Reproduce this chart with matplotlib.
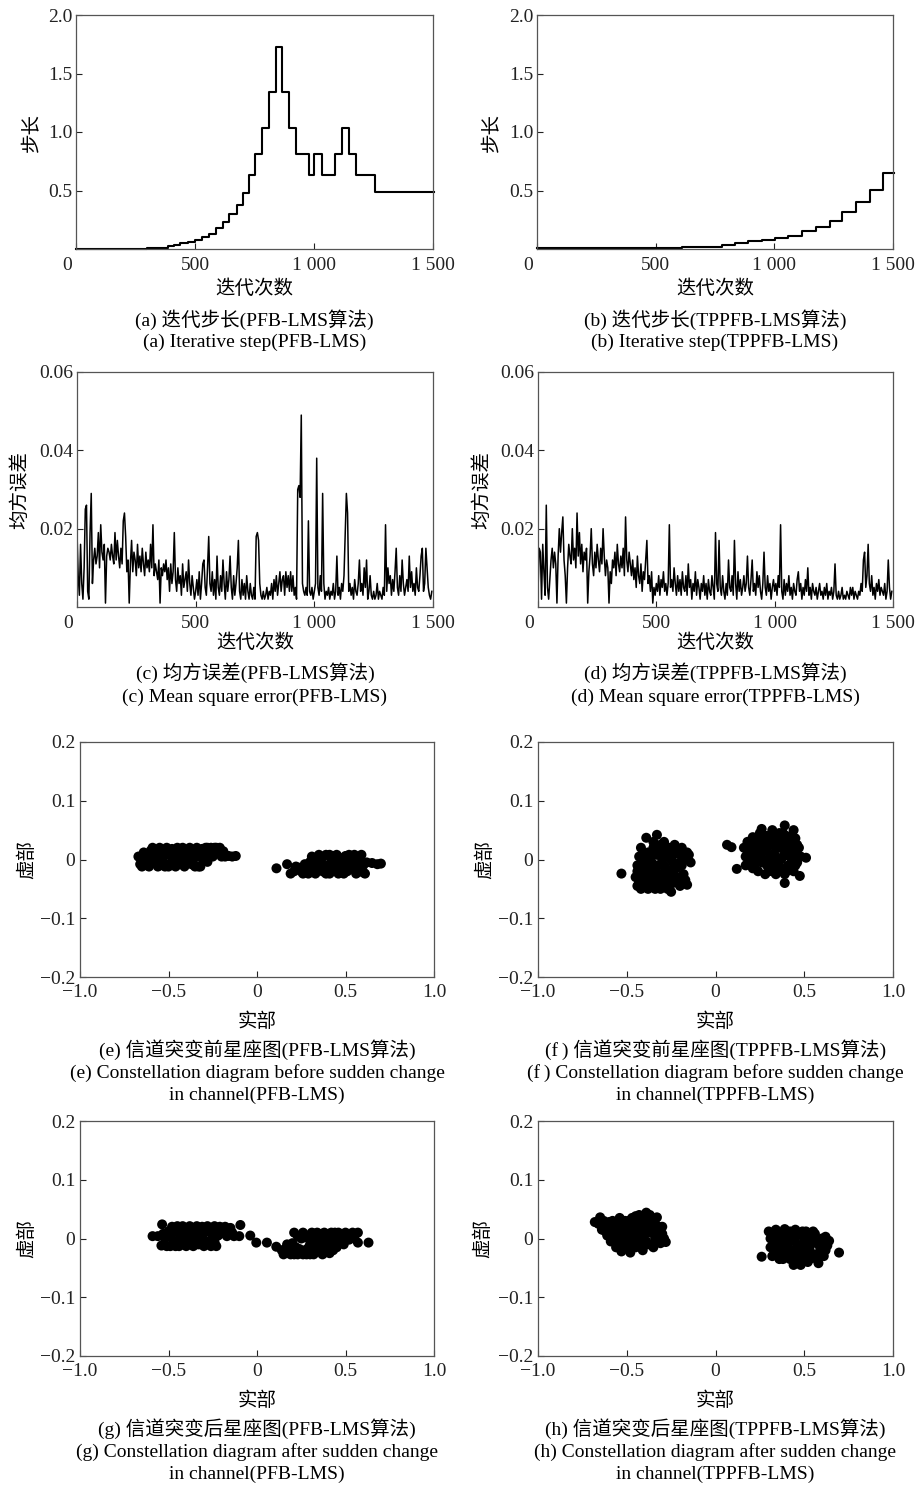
import matplotlib
matplotlib.use("Agg")
import matplotlib.pyplot as plt
import matplotlib.transforms as mtransforms
import numpy as np

plt.rcParams['font.family'] = ['Liberation Serif', 'Noto Sans CJK SC']
plt.rcParams['axes.unicode_minus'] = True

W, H = 919, 1487  # output size in pixels (dpi 100)

### step size, piecewise constant: start iteration -> value
a_iter = [0, 297, 388, 410, 437, 472, 500, 531, 559, 587, 616, 644, 675, 700, 726,
          752, 781, 810, 840, 867, 896, 924, 978, 1001, 1035, 1090, 1119, 1148, 1175, 1256, 1505]
a_step = [0.003, 0.011, 0.028, 0.037, 0.048, 0.063, 0.078, 0.10, 0.13, 0.178, 0.233, 0.30, 0.38, 0.48, 0.63,
          0.812, 1.037, 1.345, 1.73, 1.345, 1.037, 0.812, 0.63, 0.812, 0.63, 0.812, 1.037, 0.812, 0.63, 0.484, 0.484]

b_iter = [0, 610, 779, 835, 891, 947, 1003, 1059, 1118, 1176, 1235, 1287, 1344, 1403, 1457, 1505]
b_step = [0.006, 0.02, 0.034, 0.048, 0.065, 0.077, 0.091, 0.114, 0.151, 0.191, 0.243, 0.312, 0.40, 0.506, 0.649, 0.649]

### mean square error, one value every 5 iterations
mse_iter = np.arange(0, 1500, 5)
c_mse = [
    0.019, 0.008, 0.003, 0.016, 0.006, 0.002, 0.010, 0.025, 0.026, 0.004, 0.002, 0.019, 0.029, 0.006, 0.012, 0.015, 0.011, 0.013, 0.019, 0.010,
    0.021, 0.014, 0.012, 0.016, 0.001, 0.013, 0.015, 0.014, 0.012, 0.016, 0.013, 0.011, 0.019, 0.012, 0.017, 0.013, 0.010, 0.015, 0.011, 0.022,
    0.024, 0.018, 0.009, 0.012, 0.001, 0.011, 0.017, 0.009, 0.014, 0.012, 0.008, 0.016, 0.010, 0.013, 0.009, 0.015, 0.011, 0.008, 0.014, 0.010,
    0.012, 0.009, 0.016, 0.010, 0.021, 0.008, 0.011, 0.009, 0.007, 0.012, 0.001, 0.010, 0.008, 0.011, 0.009, 0.012, 0.007, 0.010, 0.004, 0.011,
    0.006, 0.009, 0.019, 0.007, 0.004, 0.010, 0.006, 0.008, 0.003, 0.011, 0.005, 0.007, 0.009, 0.004, 0.012, 0.006, 0.003, 0.008, 0.005, 0.002,
    0.004, 0.007, 0.003, 0.009, 0.002, 0.006, 0.011, 0.012, 0.005, 0.003, 0.010, 0.018, 0.006, 0.004, 0.009, 0.003, 0.007, 0.002, 0.013, 0.005,
    0.003, 0.008, 0.004, 0.012, 0.006, 0.002, 0.009, 0.004, 0.007, 0.013, 0.005, 0.002, 0.008, 0.003, 0.006, 0.010, 0.017, 0.004, 0.002, 0.007,
    0.003, 0.006, 0.002, 0.008, 0.004, 0.002, 0.006, 0.003, 0.002, 0.005, 0.002, 0.018, 0.019, 0.017, 0.006, 0.003, 0.002, 0.004, 0.002, 0.003,
    0.005, 0.002, 0.004, 0.003, 0.006, 0.002, 0.007, 0.004, 0.008, 0.003, 0.006, 0.009, 0.004, 0.007, 0.008, 0.003, 0.009, 0.005, 0.008, 0.004,
    0.009, 0.004, 0.008, 0.003, 0.005, 0.002, 0.030, 0.031, 0.028, 0.049, 0.006, 0.004, 0.003, 0.005, 0.003, 0.022, 0.004, 0.003, 0.005, 0.002,
    0.004, 0.006, 0.038, 0.005, 0.003, 0.008, 0.004, 0.029, 0.006, 0.002, 0.004, 0.003, 0.005, 0.002, 0.004, 0.003, 0.006, 0.002, 0.004, 0.013,
    0.003, 0.005, 0.002, 0.006, 0.004, 0.008, 0.019, 0.029, 0.024, 0.004, 0.006, 0.003, 0.005, 0.002, 0.007, 0.004, 0.003, 0.006, 0.012, 0.004,
    0.006, 0.003, 0.010, 0.005, 0.012, 0.002, 0.004, 0.008, 0.003, 0.002, 0.004, 0.002, 0.003, 0.006, 0.002, 0.004, 0.003, 0.002, 0.005, 0.003,
    0.021, 0.004, 0.010, 0.006, 0.008, 0.003, 0.007, 0.004, 0.009, 0.015, 0.005, 0.003, 0.008, 0.004, 0.012, 0.006, 0.003, 0.005, 0.007, 0.004,
    0.013, 0.005, 0.009, 0.004, 0.006, 0.003, 0.010, 0.005, 0.004, 0.008, 0.013, 0.015, 0.004, 0.006, 0.015, 0.010, 0.005, 0.003, 0.002, 0.004,
]
d_mse = [
    0.004, 0.015, 0.014, 0.002, 0.016, 0.009, 0.003, 0.026, 0.005, 0.002, 0.007, 0.012, 0.015, 0.010, 0.014, 0.011, 0.001, 0.013, 0.020, 0.014,
    0.019, 0.023, 0.012, 0.008, 0.001, 0.010, 0.016, 0.013, 0.011, 0.020, 0.012, 0.015, 0.010, 0.024, 0.013, 0.019, 0.011, 0.016, 0.009, 0.014,
    0.012, 0.015, 0.001, 0.009, 0.013, 0.020, 0.011, 0.008, 0.014, 0.010, 0.016, 0.012, 0.009, 0.015, 0.011, 0.020, 0.013, 0.008, 0.012, 0.010,
    0.001, 0.009, 0.006, 0.012, 0.010, 0.014, 0.008, 0.016, 0.011, 0.009, 0.013, 0.010, 0.015, 0.008, 0.023, 0.012, 0.009, 0.014, 0.011, 0.008,
    0.012, 0.007, 0.010, 0.005, 0.013, 0.008, 0.006, 0.011, 0.004, 0.009, 0.007, 0.012, 0.017, 0.006, 0.008, 0.004, 0.009, 0.001, 0.005, 0.003,
    0.006, 0.004, 0.008, 0.003, 0.007, 0.005, 0.009, 0.004, 0.006, 0.003, 0.006, 0.021, 0.005, 0.007, 0.004, 0.010, 0.006, 0.003, 0.008, 0.004,
    0.007, 0.003, 0.009, 0.005, 0.004, 0.008, 0.003, 0.011, 0.005, 0.007, 0.002, 0.006, 0.004, 0.009, 0.003, 0.007, 0.005, 0.002, 0.006, 0.004,
    0.008, 0.003, 0.006, 0.002, 0.007, 0.004, 0.003, 0.008, 0.005, 0.002, 0.019, 0.006, 0.004, 0.017, 0.005, 0.003, 0.008, 0.004, 0.002, 0.006,
    0.003, 0.012, 0.005, 0.004, 0.008, 0.003, 0.017, 0.006, 0.002, 0.009, 0.004, 0.007, 0.003, 0.005, 0.008, 0.004, 0.006, 0.013, 0.005, 0.003,
    0.007, 0.012, 0.004, 0.006, 0.003, 0.009, 0.005, 0.008, 0.004, 0.002, 0.006, 0.014, 0.005, 0.003, 0.008, 0.004, 0.006, 0.002, 0.005, 0.007,
    0.004, 0.006, 0.003, 0.008, 0.005, 0.021, 0.004, 0.002, 0.007, 0.003, 0.006, 0.004, 0.008, 0.003, 0.005, 0.002, 0.006, 0.004, 0.003, 0.007,
    0.009, 0.004, 0.006, 0.002, 0.005, 0.003, 0.007, 0.004, 0.010, 0.003, 0.005, 0.002, 0.006, 0.004, 0.003, 0.005, 0.002, 0.004, 0.006, 0.003,
    0.004, 0.002, 0.005, 0.003, 0.006, 0.002, 0.004, 0.003, 0.005, 0.002, 0.004, 0.011, 0.003, 0.002, 0.004, 0.002, 0.003, 0.005, 0.002, 0.003,
    0.002, 0.004, 0.003, 0.002, 0.005, 0.003, 0.005, 0.002, 0.004, 0.003, 0.002, 0.004, 0.003, 0.006, 0.004, 0.012, 0.014, 0.005, 0.008, 0.016,
    0.006, 0.004, 0.008, 0.003, 0.005, 0.002, 0.006, 0.004, 0.007, 0.003, 0.005, 0.004, 0.003, 0.006, 0.002, 0.004, 0.012, 0.005, 0.002, 0.004,
]

### constellation points (real, imag)
e_points = [
    (-0.67, 0.005), (-0.66, -0.008), (-0.65, -0.012), (-0.64, 0.012), (-0.63, 0.0), (-0.62, 0.008), (-0.62, -0.01),
    (-0.61, -0.012), (-0.60, 0.015), (-0.60, 0.0), (-0.59, 0.02), (-0.58, -0.005), (-0.58, 0.012), (-0.57, 0.01),
    (-0.56, -0.012), (-0.56, 0.004), (-0.55, 0.02), (-0.55, -0.01), (-0.54, 0.003), (-0.53, 0.015), (-0.53, -0.004),
    (-0.52, -0.012), (-0.52, 0.01), (-0.51, 0.02), (-0.50, 0.008), (-0.50, -0.012), (-0.49, -0.008), (-0.48, 0.018),
    (-0.48, 0.004), (-0.47, 0.0), (-0.46, -0.012), (-0.46, 0.012), (-0.45, 0.02), (-0.44, 0.01), (-0.44, -0.008),
    (-0.43, -0.004), (-0.42, 0.02), (-0.42, 0.006), (-0.41, -0.012), (-0.40, 0.012), (-0.40, -0.004), (-0.39, 0.002),
    (-0.38, 0.02), (-0.38, 0.008), (-0.37, -0.008), (-0.36, 0.015), (-0.36, 0.0), (-0.35, -0.012), (-0.34, 0.02),
    (-0.34, 0.01), (-0.33, 0.006), (-0.33, -0.012), (-0.32, -0.012), (-0.32, 0.004), (-0.31, 0.018), (-0.30, 0.0),
    (-0.30, 0.012), (-0.29, 0.02), (-0.28, 0.01), (-0.28, 0.02), (-0.28, -0.004), (-0.27, 0.004), (-0.26, 0.02),
    (-0.25, 0.005), (-0.24, 0.012), (-0.24, 0.02), (-0.23, 0.02), (-0.22, 0.012), (-0.21, 0.02), (-0.20, 0.005),
    (-0.19, 0.014), (-0.18, 0.005), (-0.16, 0.006), (-0.14, 0.005), (-0.12, 0.006),
    (0.11, -0.015), (0.17, -0.008), (0.19, -0.024), (0.21, -0.02), (0.22, -0.012), (0.24, -0.014), (0.25, -0.02),
    (0.26, -0.024), (0.27, -0.008), (0.28, -0.016), (0.29, -0.024), (0.30, -0.004), (0.31, 0.005), (0.31, -0.008),
    (0.32, -0.015), (0.33, -0.024), (0.33, 0.002), (0.34, -0.01), (0.35, 0.008), (0.35, -0.018), (0.36, -0.004),
    (0.37, -0.02), (0.37, 0.004), (0.38, -0.012), (0.39, 0.008), (0.39, -0.024), (0.40, -0.01), (0.41, -0.024),
    (0.41, 0.008), (0.42, 0.0), (0.42, -0.016), (0.43, 0.006), (0.44, -0.016), (0.44, -0.004), (0.45, 0.008),
    (0.46, -0.024), (0.46, 0.004), (0.47, -0.002), (0.47, -0.018), (0.48, -0.012), (0.49, -0.024), (0.50, 0.006),
    (0.50, -0.006), (0.51, -0.02), (0.52, 0.0), (0.52, 0.008), (0.53, -0.006), (0.54, -0.016), (0.55, 0.008),
    (0.55, -0.004), (0.56, -0.024), (0.57, -0.02), (0.58, -0.01), (0.58, 0.004), (0.59, 0.008), (0.60, -0.022),
    (0.60, -0.01), (0.61, -0.024), (0.62, -0.005), (0.65, -0.006), (0.68, -0.008), (0.70, -0.007),
]
f_points = [
    (-0.53, -0.024), (-0.39, 0.037), (-0.33, 0.042), (-0.25, -0.055), (-0.16, -0.043), (-0.15, 0.008),
    (-0.14, -0.005), (-0.42, 0.02),
    (-0.45, -0.03), (-0.44, -0.045), (-0.44, -0.01), (-0.44, -0.02), (-0.43, 0.005), (-0.43, -0.04),
    (-0.42, -0.05), (-0.42, -0.035), (-0.41, -0.025), (-0.41, -0.01), (-0.40, -0.04), (-0.40, 0.0),
    (-0.40, 0.01), (-0.39, -0.015), (-0.39, -0.03), (-0.38, -0.05), (-0.38, 0.012), (-0.38, -0.025),
    (-0.37, -0.03), (-0.37, -0.045), (-0.37, 0.0), (-0.36, -0.005), (-0.36, -0.045), (-0.36, -0.02),
    (-0.35, 0.02), (-0.35, 0.03), (-0.35, -0.02), (-0.34, -0.05), (-0.34, -0.01), (-0.34, 0.015),
    (-0.33, 0.008), (-0.33, -0.035), (-0.33, -0.045), (-0.32, -0.01), (-0.32, -0.025), (-0.31, -0.05),
    (-0.31, 0.025), (-0.31, -0.035), (-0.31, 0.01), (-0.30, -0.025), (-0.30, 0.0), (-0.30, 0.015),
    (-0.29, -0.04), (-0.29, 0.03), (-0.29, -0.01), (-0.28, 0.015), (-0.28, -0.015), (-0.28, -0.03),
    (-0.27, -0.05), (-0.27, 0.005), (-0.27, -0.04), (-0.26, 0.02), (-0.26, -0.03), (-0.25, 0.0),
    (-0.25, -0.02), (-0.25, 0.015), (-0.24, -0.04), (-0.24, -0.005), (-0.23, 0.025), (-0.23, -0.015),
    (-0.22, -0.03), (-0.22, -0.015), (-0.22, 0.01), (-0.21, 0.01), (-0.21, -0.04), (-0.20, -0.045),
    (-0.20, -0.005), (-0.19, 0.02), (-0.19, -0.01), (-0.18, -0.025), (-0.18, 0.005), (-0.17, 0.0),
    (-0.17, -0.035), (-0.16, 0.012),
    (0.065, 0.025), (0.09, 0.021), (0.12, -0.016), (0.39, -0.04), (0.475, -0.028), (0.51, 0.003),
    (0.39, 0.058), (0.26, 0.052), (0.44, 0.05), (0.45, 0.036), (0.17, -0.01),
    (0.16, 0.02), (0.17, 0.005), (0.18, 0.03), (0.18, 0.015), (0.19, -0.005), (0.19, 0.025), (0.20, 0.015),
    (0.20, 0.0), (0.21, 0.038), (0.21, -0.015), (0.22, 0.0), (0.22, 0.03), (0.22, -0.01), (0.23, 0.025),
    (0.23, 0.01), (0.24, -0.02), (0.24, 0.02), (0.24, 0.005), (0.25, 0.01), (0.25, 0.045), (0.26, -0.005),
    (0.26, 0.035), (0.26, 0.015), (0.27, 0.03), (0.27, 0.0), (0.28, -0.025), (0.28, 0.015), (0.28, 0.04),
    (0.29, 0.04), (0.29, 0.02), (0.29, -0.01), (0.30, 0.0), (0.30, -0.02), (0.31, 0.025), (0.31, 0.035),
    (0.31, 0.005), (0.32, 0.05), (0.32, -0.01), (0.32, -0.02), (0.33, 0.01), (0.33, -0.02), (0.33, 0.04),
    (0.34, 0.035), (0.34, -0.025), (0.34, 0.02), (0.35, 0.0), (0.35, -0.01), (0.36, 0.02), (0.36, 0.045),
    (0.36, 0.03), (0.37, -0.015), (0.37, 0.0), (0.38, 0.03), (0.38, 0.005), (0.38, 0.045), (0.39, -0.025),
    (0.39, 0.015), (0.40, 0.015), (0.40, 0.04), (0.40, -0.02), (0.41, -0.01), (0.41, 0.03), (0.42, 0.025),
    (0.42, 0.005), (0.43, 0.0), (0.43, 0.04), (0.44, -0.02), (0.44, 0.015), (0.45, 0.012), (0.45, -0.01),
    (0.46, -0.005), (0.46, 0.025), (0.47, 0.02), (0.48, 0.005),
]
g_points = [
    (-0.59, 0.004), (-0.56, 0.004), (-0.536, 0.024), (-0.54, -0.012), (-0.53, 0.008), (-0.52, 0.0),
    (-0.51, -0.013), (-0.50, 0.012), (-0.49, 0.004), (-0.49, -0.013), (-0.48, 0.02), (-0.47, -0.005),
    (-0.47, 0.014), (-0.46, -0.013), (-0.45, 0.021), (-0.45, -0.004), (-0.44, 0.008), (-0.44, -0.013),
    (-0.43, -0.01), (-0.43, 0.014), (-0.42, 0.021), (-0.41, 0.0), (-0.41, 0.01), (-0.40, -0.013),
    (-0.39, 0.015), (-0.39, -0.006), (-0.38, 0.021), (-0.37, -0.006), (-0.37, 0.008), (-0.36, -0.013),
    (-0.35, 0.01), (-0.35, 0.0), (-0.34, 0.021), (-0.33, -0.01), (-0.33, 0.014), (-0.32, 0.003),
    (-0.31, 0.02), (-0.31, 0.006), (-0.30, -0.013), (-0.29, 0.012), (-0.29, -0.004), (-0.28, 0.021),
    (-0.27, -0.005), (-0.27, 0.012), (-0.26, -0.013), (-0.25, 0.015), (-0.25, 0.002), (-0.24, 0.021),
    (-0.24, -0.006), (-0.23, -0.013), (-0.23, 0.014), (-0.22, 0.005), (-0.21, 0.02), (-0.21, 0.008),
    (-0.20, 0.01), (-0.19, 0.012), (-0.18, 0.02), (-0.17, 0.004), (-0.16, 0.01), (-0.15, 0.018),
    (-0.14, 0.01), (-0.13, 0.004), (-0.10, 0.004), (-0.094, 0.023),
    (-0.038, 0.005), (-0.004, -0.007), (0.056, -0.007), (0.109, -0.014),
    (0.14, -0.02), (0.15, -0.027), (0.16, -0.018), (0.17, -0.01), (0.18, -0.022), (0.19, -0.027),
    (0.20, -0.008), (0.21, 0.01), (0.21, -0.027), (0.22, -0.015), (0.23, -0.027), (0.23, 0.004),
    (0.24, -0.018), (0.25, 0.0), (0.26, 0.01), (0.26, -0.027), (0.27, -0.02), (0.27, 0.002),
    (0.28, -0.027), (0.29, 0.005), (0.29, -0.016), (0.30, -0.01), (0.30, -0.027), (0.31, 0.01),
    (0.32, -0.027), (0.32, 0.004), (0.33, -0.005), (0.33, -0.018), (0.34, 0.01), (0.35, -0.018),
    (0.35, 0.008), (0.36, 0.002), (0.36, -0.022), (0.37, -0.027), (0.37, -0.008), (0.38, 0.01),
    (0.39, -0.012), (0.39, 0.004), (0.40, 0.0), (0.40, -0.02), (0.41, -0.025), (0.41, 0.008),
    (0.42, 0.01), (0.42, -0.008), (0.43, -0.02), (0.44, -0.005), (0.44, 0.01), (0.45, -0.015),
    (0.45, -0.002), (0.46, 0.01), (0.47, 0.006), (0.48, -0.005), (0.49, -0.01), (0.50, 0.01),
    (0.51, 0.006), (0.52, -0.002), (0.53, 0.004), (0.54, 0.01), (0.55, 0.0), (0.57, 0.01),
    (0.57, -0.007), (0.63, -0.007),
]
h_points = [
    (-0.68, 0.028), (-0.66, 0.025), (-0.65, 0.036), (-0.64, 0.015), (-0.63, 0.03), (-0.62, 0.025),
    (-0.62, 0.012), (-0.61, 0.005), (-0.60, 0.018), (-0.60, 0.028), (-0.59, -0.005), (-0.59, 0.01),
    (-0.58, 0.03), (-0.58, 0.0), (-0.57, 0.01), (-0.57, 0.022), (-0.56, -0.015), (-0.56, 0.0),
    (-0.55, 0.022), (-0.55, 0.012), (-0.54, 0.0), (-0.54, 0.035), (-0.54, -0.012), (-0.53, -0.022),
    (-0.53, 0.008), (-0.52, 0.012), (-0.52, 0.025), (-0.52, -0.005), (-0.51, 0.03), (-0.51, 0.0),
    (-0.50, -0.01), (-0.50, 0.02), (-0.50, 0.01), (-0.49, 0.0), (-0.49, 0.03), (-0.49, -0.018),
    (-0.48, -0.024), (-0.48, 0.018), (-0.47, 0.025), (-0.47, 0.035), (-0.47, -0.008), (-0.46, 0.008),
    (-0.46, 0.03), (-0.45, -0.015), (-0.45, 0.038), (-0.45, 0.0), (-0.44, 0.015), (-0.44, 0.025),
    (-0.43, -0.005), (-0.43, 0.04), (-0.43, 0.01), (-0.42, 0.03), (-0.42, -0.012), (-0.41, -0.02),
    (-0.41, 0.005), (-0.41, 0.035), (-0.40, 0.02), (-0.40, 0.008), (-0.39, 0.044), (-0.39, -0.005),
    (-0.38, -0.01), (-0.38, 0.025), (-0.37, 0.01), (-0.37, 0.04), (-0.36, 0.028), (-0.36, 0.012),
    (-0.35, -0.015), (-0.35, 0.02), (-0.34, 0.0), (-0.34, -0.008), (-0.33, 0.036), (-0.33, 0.022),
    (-0.32, 0.015), (-0.32, 0.0), (-0.31, -0.008), (-0.30, 0.008), (-0.30, 0.02), (-0.29, 0.0),
    (-0.28, -0.006),
    (0.26, -0.031), (0.30, 0.012), (0.31, -0.015), (0.31, 0.0), (0.32, -0.03), (0.32, 0.008),
    (0.33, 0.0), (0.33, -0.02), (0.34, 0.015), (0.34, -0.005), (0.35, -0.022), (0.35, 0.005),
    (0.36, -0.008), (0.36, -0.035), (0.37, 0.01), (0.37, -0.025), (0.38, -0.035), (0.38, 0.0),
    (0.38, -0.012), (0.39, 0.016), (0.39, -0.015), (0.40, 0.0), (0.40, 0.01), (0.40, -0.025),
    (0.41, -0.03), (0.42, 0.012), (0.42, -0.005), (0.42, -0.035), (0.43, -0.02), (0.43, 0.005),
    (0.44, -0.045), (0.44, 0.002), (0.45, 0.015), (0.45, -0.025), (0.46, -0.01), (0.46, 0.005),
    (0.46, -0.04), (0.47, -0.035), (0.47, -0.018), (0.48, 0.008), (0.48, -0.045), (0.49, -0.022),
    (0.49, 0.012), (0.50, -0.002), (0.50, -0.032), (0.51, 0.012), (0.51, -0.012), (0.52, -0.04),
    (0.52, 0.002), (0.53, -0.015), (0.53, -0.035), (0.54, 0.005), (0.54, -0.025), (0.55, 0.012),
    (0.55, -0.005), (0.56, -0.028), (0.56, 0.008), (0.57, -0.008), (0.57, -0.035), (0.58, -0.042),
    (0.58, -0.008), (0.59, -0.018), (0.59, -0.028), (0.60, 0.0), (0.60, -0.012), (0.61, -0.03),
    (0.62, 0.003), (0.62, -0.02), (0.63, -0.012), (0.64, -0.004), (0.696, -0.024),
]

iter_ticks = [0, 500, 1000, 1500]
iter_labels = ['0', '500', '1 000', '1 500']
re_ticks = [-1.0, -0.5, 0, 0.5, 1.0]
re_labels = ['\u22121.0', '\u22120.5', '0', '0.5', '1.0']
im_ticks = [-0.2, -0.1, 0, 0.1, 0.2]
im_labels = ['\u22120.2', '\u22120.1', '0', '0.1', '0.2']

fig = plt.figure(figsize=(W / 100, H / 100), dpi=100)


def px_axes(l, r, t, b):
    return fig.add_axes([l / W, 1 - b / H, (r - l) / W, (b - t) / H])


def px_text(x, y, s, size=14, rot=0):
    fig.text(x / W, 1 - y / H, s, ha='center', va='center', fontsize=size, rotation=rot)


def style(ax, xt, xl, yt, yl, xpad=5.5, ypad=2.5):
    ax.set_xticks(xt)
    ax.set_xticklabels(xl)
    ax.set_yticks(yt)
    ax.set_yticklabels(yl)
    ax.tick_params(direction='in', length=4, width=0.8, labelsize=14, colors='#222')
    ax.tick_params(axis='x', pad=xpad)
    ax.tick_params(axis='y', pad=ypad)
    for sp in ax.spines.values():
        sp.set_linewidth(0.9)
        sp.set_color('#555')


def shift_zero(ax):
    # the "0" on the iteration axis sits left of its tick
    offset = mtransforms.ScaledTranslation(-0.09, 0, fig.dpi_scale_trans)
    lbl = ax.xaxis.get_major_ticks()[0].label1
    lbl.set_transform(lbl.get_transform() + offset)


###Step size panels
for (l, r), it, st, ylx, tag, en in [((76, 433), a_iter, a_step, 32, 'PFB-LMS', '(a)'),
                                      ((537, 893), b_iter, b_step, 492, 'TPPFB-LMS', '(b)')]:
    ax = px_axes(l, r, 15, 249)
    ax.step(it, st, where='post', color='black', lw=1.5, clip_on=False)
    ax.set_xlim(0, 1500)
    ax.set_ylim(0, 2.0)
    style(ax, iter_ticks, iter_labels, [0.5, 1.0, 1.5, 2.0], ['0.5', '1.0', '1.5', '2.0'])
    shift_zero(ax)
    cx = (l + r) / 2
    px_text(cx, 289, '迭代次数')
    px_text(ylx, 133, '步长', 14, 90)
    px_text(cx, 320, f'{en} 迭代步长({tag}算法)')
    px_text(cx, 342, f'{en} Iterative step({tag})')

###MSE panels
for (l, r), mse, ylx, tag, en in [((77, 433), c_mse, 20, 'PFB-LMS', '(c)'),
                                   ((538, 893), d_mse, 482, 'TPPFB-LMS', '(d)')]:
    ax = px_axes(l, r, 372, 607)
    ax.plot(mse_iter, mse, color='black', lw=1.1)
    ax.set_xlim(0, 1500)
    ax.set_ylim(0, 0.06)
    style(ax, iter_ticks, iter_labels, [0.02, 0.04, 0.06], ['0.02', '0.04', '0.06'])
    shift_zero(ax)
    cx = (l + r) / 2
    px_text(cx, 643, '迭代次数')
    px_text(ylx, 490, '均方误差', 14, 90)
    px_text(cx, 673, f'{en} 均方误差({tag}算法)')
    px_text(cx, 697, f'{en} Mean square error({tag})')

###Constellation panels
panels = [
    ((80, 434), 742, 977, e_points, 27, '(e)', '前', 'before', 'PFB-LMS'),
    ((538, 893), 742, 977, f_points, 485, '(f\u2009)', '前', 'before', 'TPPFB-LMS'),
    ((80, 434), 1121, 1356, g_points, 27, '(g)', '后', 'after', 'PFB-LMS'),
    ((538, 893), 1121, 1356, h_points, 483, '(h)', '后', 'after', 'TPPFB-LMS'),
]
for (l, r), t, b, pts, ylx, en, zh, word, tag in panels:
    ax = px_axes(l, r, t, b)
    re = [p[0] for p in pts]
    im = [p[1] for p in pts]
    ax.scatter(re, im, s=52, color='black', edgecolors='none')
    ax.set_xlim(-1.0, 1.0)
    ax.set_ylim(-0.2, 0.2)
    style(ax, re_ticks, re_labels, im_ticks, im_labels, xpad=5, ypad=3.5)
    cx = (l + r) / 2
    px_text(cx, b + 45, '实部')
    px_text(ylx, (t + b) / 2, '虚部', 14, 90)
    px_text(cx, b + 73, f'{en} 信道突变{zh}星座图({tag}算法)')
    px_text(cx, b + 96, f'{en} Constellation diagram {word} sudden change')
    px_text(cx, b + 118, f'in channel({tag})')

fig.savefig('out.png', dpi=100)
